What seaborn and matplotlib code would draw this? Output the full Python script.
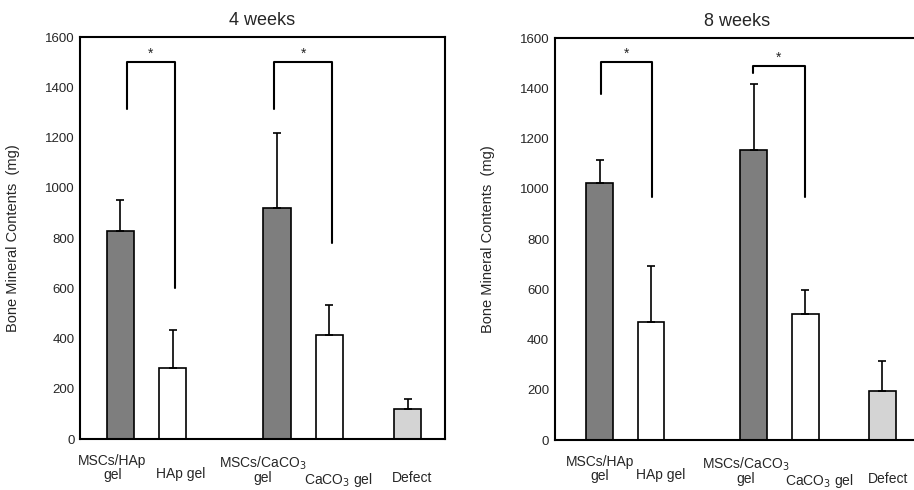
import matplotlib
matplotlib.use("Agg")
import matplotlib.pyplot as plt
import matplotlib.transforms as mtransforms
import numpy as np
import pandas as pd
import seaborn as sns

sns.set_style("white")
plt.rcParams['font.family'] = ['Liberation Sans', 'DejaVu Sans']

# data
groups = ["MSCs/HAp gel", "HAp gel", "MSCs/CaCO3 gel", "CaCO3 gel", "Defect"]
tick_labels = ["MSCs/HAp\ngel", "HAp gel", "MSCs/CaCO$_3$\ngel",
               "CaCO$_3$ gel", "Defect"]
bmc_4w = [830, 283, 920, 414, 119]
sd_4w = [120, 151, 300, 121, 39]
bmc_8w = [1025, 470, 1155, 502, 196]
sd_8w = [90, 222, 263, 95, 118]

# significance brackets: (x left, x right, left leg bottom, top, right leg bottom)
brackets_4w = [(0.25, 2.1, 1313, 1500, 600), (5.9, 8.1, 1313, 1500, 780)]
brackets_8w = [(0.05, 2.05, 1377, 1504, 967), (5.95, 8.0, 1460, 1488, 967)]

bar_pos = [0, 2, 6, 8, 11]
bar_colors = ["#7e7e7e", "white", "#7e7e7e", "white", "#d4d4d4"]
# small nudges of the x labels (pixels), as in the original layout
label_dx_4w = [-8, 8, -14, 9, 4]
label_dx_8w = [0, 10, -8, 14, 6]
label_dy = [0, -13, 0, -17, -17]

fig = plt.figure(figsize=(9.14, 4.9), dpi=100)
ax1 = fig.add_axes([0.0875, 0.104, 0.399, 0.820])
ax2 = fig.add_axes([0.607, 0.102, 0.399, 0.820])


def draw_panel(ax, vals, errs, brackets, title, xlim, label_dx):
    df = pd.DataFrame({"pos": bar_pos, "group": groups, "bmc": vals})
    sns.barplot(data=df, x="pos", y="bmc", hue="group", palette=bar_colors,
                native_scale=True, dodge=False, width=0.52, errorbar=None,
                edgecolor="black", linewidth=1.2, legend=False, ax=ax)
    ax.errorbar(bar_pos, vals, yerr=[np.zeros(len(vals)), errs], fmt="none",
                ecolor="black", elinewidth=1.2, capsize=3, capthick=1.2)
    for x1, x2, yl, yt, yr in brackets:
        ax.plot([x1, x1, x2, x2], [yl, yt, yt, yr], color="black", lw=1.5)
        ax.text((x1 + x2) / 2, yt + 8, "*", ha="center", va="bottom",
                fontsize=10)
    ax.set_xlim(*xlim)
    ax.set_ylim(0, 1600)
    ax.set_yticks(range(0, 1601, 200))
    ax.set_xticks(bar_pos)
    ax.set_xticklabels(tick_labels, fontsize=10, linespacing=0.95)
    ax.tick_params(axis="x", length=0, pad=11)
    ax.tick_params(axis="y", direction="in", length=3, labelsize=9.5, pad=4)
    ax.set_xlabel("")
    ax.set_ylabel("Bone Mineral Contents  (mg)", fontsize=10.5)
    ax.yaxis.set_label_coords(-0.164, 0.5)
    ax.set_title(title, fontsize=13, pad=9)
    for sp in ax.spines.values():
        sp.set_visible(True)
        sp.set_color("black")
        sp.set_linewidth(1.5)
    for lab, dx, dy in zip(ax.get_xticklabels(), label_dx, label_dy):
        shift = mtransforms.ScaledTranslation(dx / 100, dy / 100,
                                              fig.dpi_scale_trans)
        lab.set_transform(lab.get_transform() + shift)


draw_panel(ax1, bmc_4w, sd_4w, brackets_4w, "4 weeks", (-1.54, 12.41), label_dx_4w)
draw_panel(ax2, bmc_8w, sd_8w, brackets_8w, "8 weeks", (-1.75, 12.45), label_dx_8w)

fig.savefig("out.png", dpi=100)
